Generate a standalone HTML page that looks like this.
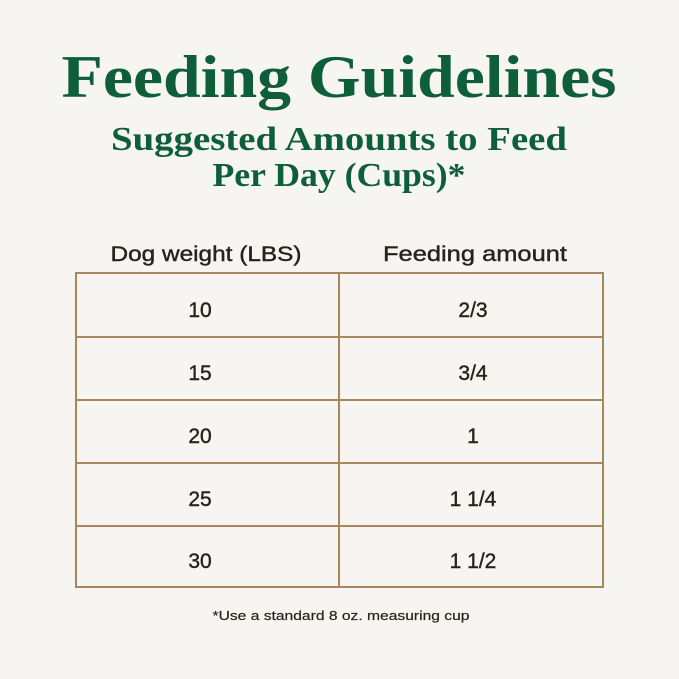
<!DOCTYPE html>
<html><head><style>
html,body{margin:0;padding:0;background:#f6f5f1;}
svg{display:block}
</style></head><body>
<svg width="679" height="679" viewBox="0 0 679 679" xmlns="http://www.w3.org/2000/svg">
<rect width="679" height="679" fill="#f6f5f1"/>
<g font-family="Liberation Serif, serif" font-weight="bold" fill="#0e5e3a" text-anchor="middle">
<text x="339" y="97" font-size="60" textLength="555" lengthAdjust="spacingAndGlyphs">Feeding Guidelines</text>
<text x="339" y="150" font-size="34" textLength="456" lengthAdjust="spacingAndGlyphs">Suggested Amounts to Feed</text>
<text x="339" y="186" font-size="34" textLength="253" lengthAdjust="spacingAndGlyphs">Per Day (Cups)*</text>
</g>
<g font-family="Liberation Sans, sans-serif" fill="#2a211d" stroke="#2a211d" stroke-width="0.4" text-anchor="middle" font-size="21">
<text x="206" y="261" textLength="191" lengthAdjust="spacingAndGlyphs">Dog weight (LBS)</text>
<text x="475" y="261" textLength="184" lengthAdjust="spacingAndGlyphs">Feeding amount</text>
<text x="200" y="317">10</text><text x="473" y="317">2/3</text>
<text x="200" y="380">15</text><text x="473" y="380">3/4</text>
<text x="200" y="443">20</text><text x="473" y="443">1</text>
<text x="200" y="506">25</text><text x="473" y="506">1 1/4</text>
<text x="200" y="568">30</text><text x="473" y="568">1 1/2</text>
<text x="341" y="620" font-size="13" stroke-width="0.2" textLength="257" lengthAdjust="spacingAndGlyphs">*Use a standard 8 oz. measuring cup</text>
</g>
<g stroke="#a8865e" stroke-width="2" fill="none">
<rect x="76" y="273" width="527" height="314"/>
<line x1="339" y1="273" x2="339" y2="587"/>
<line x1="76" y1="337" x2="603" y2="337"/>
<line x1="76" y1="400" x2="603" y2="400"/>
<line x1="76" y1="463" x2="603" y2="463"/>
<line x1="76" y1="526" x2="603" y2="526"/>
</g>
</svg>
</body></html>
